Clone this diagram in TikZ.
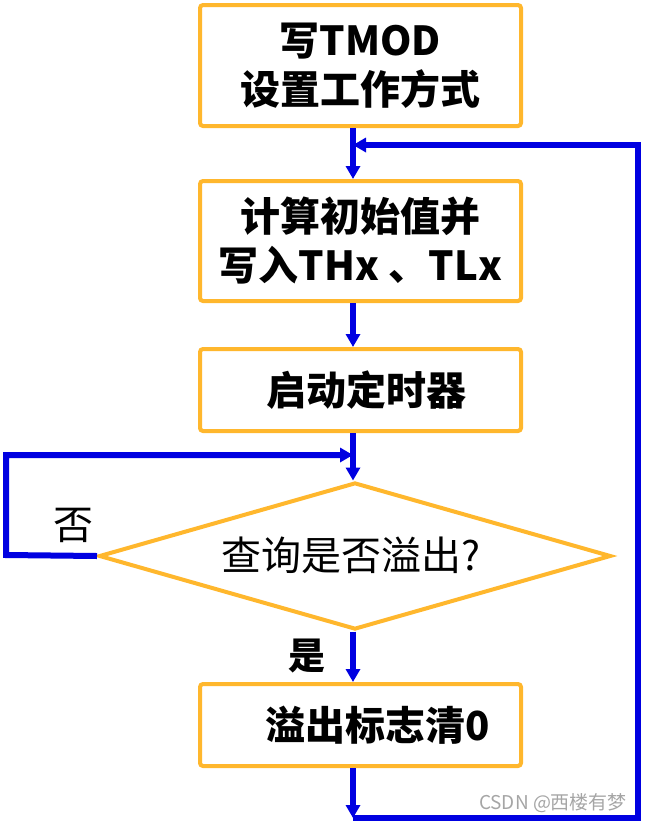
\documentclass[tikz,border=0pt]{standalone}
\usepackage{fontspec}
\newfontfamily\cjk{Noto Sans CJK SC}
\usetikzlibrary{shapes.geometric,arrows.meta,calc}
\definecolor{boxorange}{RGB}{255,183,45}
\definecolor{flowblue}{RGB}{0,0,225}
\definecolor{wmgray}{RGB}{165,165,165}
\tikzset{
  stepbox/.style={draw=boxorange, line width=4pt, rounded corners=3pt, fill=white,
    minimum width=321pt, align=center, inner sep=0pt,
    font=\cjk\bfseries\fontsize{40}{49}\selectfont},
  decbox/.style={draw=boxorange, line width=4pt, shape=diamond, aspect=3.48,
    minimum width=512pt, minimum height=147pt, inner sep=0pt},
  flow/.style={draw=flowblue, line width=6pt},
  arr/.style={flow, -{Triangle[length=13pt,width=14pt]}},
  lbl/.style={font=\cjk\fontsize{40}{44}\selectfont},
  wm/.style={text=wmgray, font=\cjk\fontsize{19}{22}\selectfont}
}
\begin{document}
\begin{tikzpicture}[x=1pt,y=-1pt]
\useasboundingbox (0,0) rectangle (645,823);
\node[stepbox, minimum height=121pt] (b1) at (360.5,65.5) {写TMOD\\设置工作方式};
\node[stepbox, minimum height=120pt] (b2) at (360.5,241) {计算初始值并\\写入THx 、TLx};
\node[stepbox, minimum height=82pt] (b3) at (360.5,390) {\hspace*{12pt}启动定时器};
\node[decbox] (dia) at (355,556) {};
\node[lbl, anchor=center] (qt) at (351,555) {查询是否溢出?};
\node[stepbox, minimum height=82pt] (b4) at (360.5,725) {\hspace*{34pt}溢出标志清0};
\coordinate (j1) at (353,145);
\coordinate (j2) at (353,455);
\coordinate (bl) at (353,818);
\coordinate (br) at (638,818);
\coordinate (tr) at (638,145);
\coordinate (ll) at (6,555);
\coordinate (ul) at (6,455);
\draw[arr] (b1.south -| j1) -- (b2.north -| j1);
\draw[arr] (b2.south -| j1) -- (b3.north -| j1);
\draw[arr] (b3.south -| j1) -- (dia.north -| j1);
\draw[arr] (dia.south -| j1) -- (b4.north -| j1);
\draw[arr] (b4.south -| j1) -- (bl);
\draw[arr] (bl) -- (br) -- (tr) -- (j1);
\draw[arr] (dia.west) -- (ll) -- (ul) -- (j2);
\node[lbl] (no) at (73,525) {否};
\node[lbl, font=\cjk\bfseries\fontsize{37}{40}\selectfont] (yes) at (307,656) {是};
\node[wm] (mark) at (553,803) {CSDN @西楼有梦};
\end{tikzpicture}
\end{document}
